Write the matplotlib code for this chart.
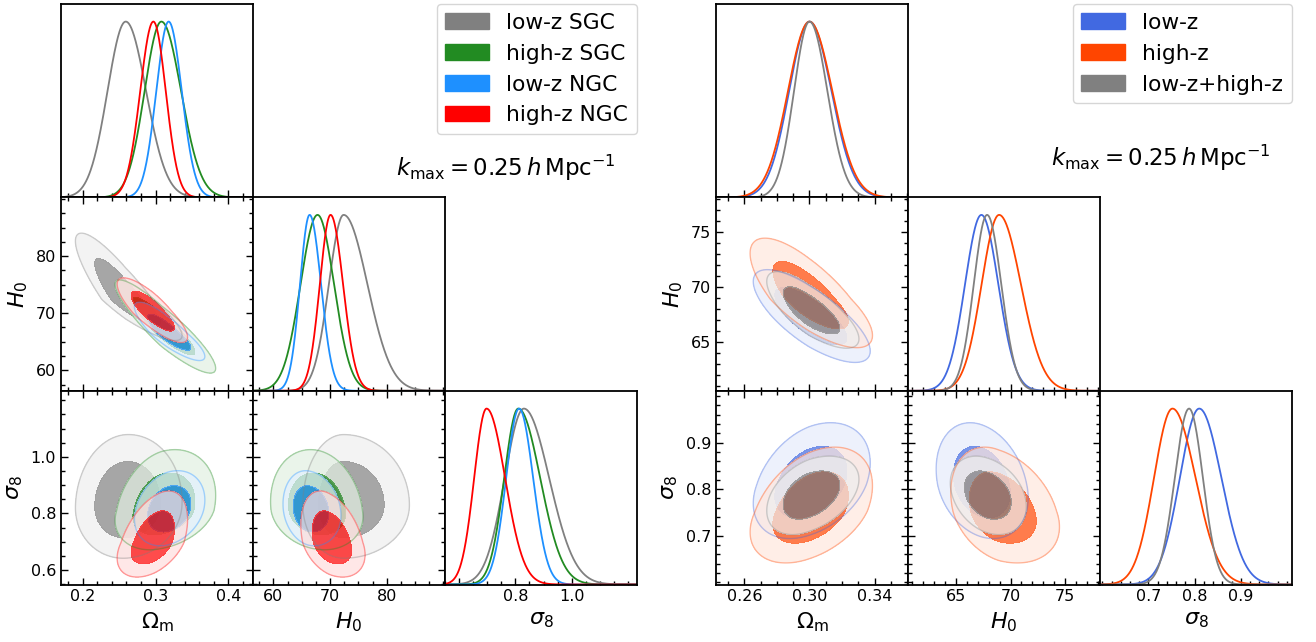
import numpy as np
import matplotlib.pyplot as plt
from matplotlib.patches import Patch
from matplotlib.ticker import MultipleLocator
from matplotlib.colors import to_rgb

W, H = 1316, 642

param_labels = [r'$\Omega_{\rm m}$', r'$H_0$', r'$\sigma_8$']

# left triangle: SGC / NGC split
left_names = ['low-z SGC', 'high-z SGC', 'low-z NGC', 'high-z NGC']
left_colors = ['gray', 'forestgreen', 'dodgerblue', 'red']
# peak position, lower width, upper width for (Om, H0, s8)
left_mode = [[0.259, 72.4, 0.83], [0.308, 67.8, 0.81], [0.318, 66.4, 0.813], [0.297, 70.1, 0.697]]
left_lo = [[0.025, 2.6, 0.068], [0.023, 3.0, 0.05], [0.017, 1.7, 0.046], [0.018, 1.9, 0.044]]
left_hi = [[0.028, 4.2, 0.09], [0.027, 2.9, 0.078], [0.018, 2.0, 0.05], [0.017, 2.2, 0.066]]
# correlations (Om-H0, Om-s8, H0-s8)
left_rho = [[-0.88, 0.05, 0.0], [-0.9, 0.25, -0.15], [-0.85, 0.25, -0.15], [-0.82, 0.45, -0.35]]
left_lims = [(0.17, 0.434), (56.4, 90.3), (0.549, 1.233)]
left_major = [[0.2, 0.3, 0.4], [60, 70, 80], [0.6, 0.8, 1.0]]
left_ticklabels = [['0.2', '0.3', '0.4'], ['60', '70', '80'], ['0.6', '0.8', '1.0']]
left_minor = [0.02, 2.5, 0.05]

# right triangle: combined caps
right_names = ['low-z', 'high-z', 'low-z+high-z']
right_colors = ['royalblue', 'orangered', 'gray']
right_mode = [[0.300, 67.33, 0.810], [0.300, 68.95, 0.752], [0.300, 67.85, 0.788]]
right_lo = [[0.0125, 1.5, 0.042], [0.0132, 1.6, 0.040], [0.0095, 1.22, 0.031]]
right_hi = [[0.0135, 1.55, 0.048], [0.014, 2.0, 0.050], [0.011, 1.3, 0.030]]
right_rho = [[-0.75, 0.35, -0.25], [-0.75, 0.4, -0.3], [-0.75, 0.4, -0.3]]
right_lims = [(0.2425, 0.3606), (60.6, 78.2), (0.595, 1.011)]
right_major = [[0.26, 0.30, 0.34], [65, 70, 75], [0.7, 0.8, 0.9]]
right_ticklabels = [['0.26', '0.30', '0.34'], ['65', '70', '75'], ['0.7', '0.8', '0.9']]
right_minor = [0.01, 1, 0.02]

kmax_text = r'$k_{\rm max} = 0.25\,h\,{\rm Mpc}^{-1}$'

# 2D contours come out a bit broader than the 1D curves (smoothing)
smooth_2d = 1.13

fig = plt.figure(figsize=(13.16, 6.42), dpi=100)
row_y = [4, 197.3, 391]
panel_w, panel_h = 192, 193.5


def split_u(x, m, lo, hi):
    return np.where(x < m, (x - m) / lo, (x - m) / hi)


def conf_levels(p, fracs=(0.95, 0.68)):
    flat = np.sort(p.ravel())[::-1]
    c = np.cumsum(flat)
    c /= c[-1]
    return [flat[np.searchsorted(c, f)] for f in fracs]


def lighter(c, f=0.13):
    rgb = np.array(to_rgb(c))
    return tuple(1 - (1 - rgb) * f)


def style_ticks(ax):
    ax.tick_params(which='both', direction='in', top=True, right=True, labelsize=11.5, width=1)
    ax.tick_params(which='major', length=5)
    ax.tick_params(which='minor', length=3)
    for s in ax.spines.values():
        s.set_linewidth(1.3)


def triangle(col_x, names, colors, modes, lo, hi, rhos, lims, major, ticklabels, minor, hide_first_x=False):
    axes = {}
    for i in range(3):
        for j in range(i + 1):
            x0, y0 = col_x[j], row_y[i]
            ax = fig.add_axes([x0 / W, 1 - (y0 + panel_h) / H, panel_w / W, panel_h / H])
            axes[(i, j)] = ax
            ax.set_xlim(lims[j])
            ax.set_xticks(major[j])
            ax.xaxis.set_minor_locator(MultipleLocator(minor[j]))
            style_ticks(ax)
            if i == 2:
                labs = list(ticklabels[j])
                if hide_first_x and j == 2:
                    labs[0] = ''
                ax.set_xticklabels(labs)
                ax.set_xlabel(param_labels[j], fontsize=16)
            else:
                ax.set_xticklabels([])
            if i == j:
                ax.tick_params(which='both', left=False, right=False, top=False, labelleft=False)
                ax.set_ylim(0, 1.1)
            else:
                ax.set_ylim(lims[i])
                ax.set_yticks(major[i])
                ax.yaxis.set_minor_locator(MultipleLocator(minor[i]))
                if j == 0:
                    ax.set_yticklabels(ticklabels[i])
                    ax.set_ylabel(param_labels[i], fontsize=16)
                else:
                    ax.set_yticklabels([])

    # 1D marginals
    for i in range(3):
        ax = axes[(i, i)]
        x = np.linspace(lims[i][0], lims[i][1], 500)
        for k in range(len(names)):
            u = split_u(x, modes[k][i], lo[k][i], hi[k][i])
            ax.plot(x, np.exp(-0.5 * u ** 2), color=colors[k], lw=1.3)

    # 2D contours
    pairs = {(1, 0): 0, (2, 0): 1, (2, 1): 2}
    for (i, j), r in pairs.items():
        ax = axes[(i, j)]
        for k in range(len(names)):
            lx, hx = lo[k][j] * smooth_2d, hi[k][j] * smooth_2d
            ly, hy = lo[k][i] * smooth_2d, hi[k][i] * smooth_2d
            gx = np.linspace(modes[k][j] - 7 * lx, modes[k][j] + 7 * hx, 350)
            gy = np.linspace(modes[k][i] - 7 * ly, modes[k][i] + 7 * hy, 350)
            X, Y = np.meshgrid(gx, gy)
            u = split_u(X, modes[k][j], lx, hx)
            v = split_u(Y, modes[k][i], ly, hy)
            rho = rhos[k][r]
            P = np.exp(-0.5 * (u * u - 2 * rho * u * v + v * v) / (1 - rho * rho))
            l95, l68 = conf_levels(P)
            ax.contourf(X, Y, P, levels=[l95, l68, P.max() * 1.01],
                        colors=[lighter(colors[k]), colors[k]], alpha=0.7)
            ax.contour(X, Y, P, levels=[l95], colors=[colors[k]], linewidths=1, alpha=0.35)
    return axes


triangle([61, 253, 445], left_names, left_colors, left_mode, left_lo, left_hi, left_rho,
         left_lims, left_major, left_ticklabels, left_minor, hide_first_x=True)
triangle([716, 908, 1100], right_names, right_colors, right_mode, right_lo, right_hi, right_rho,
         right_lims, right_major, right_ticklabels, right_minor)

fig.legend(handles=[Patch(color=c, label=n) for c, n in zip(left_colors, left_names)],
           loc='upper right', bbox_to_anchor=(637 / W, 1 - 4 / H), borderaxespad=0, fontsize=15.7)
fig.legend(handles=[Patch(color=c, label=n) for c, n in zip(right_colors, right_names)],
           loc='upper right', bbox_to_anchor=(1292 / W, 1 - 4 / H), borderaxespad=0, fontsize=15.7)

fig.text(506 / W, 1 - 168 / H, kmax_text, fontsize=16.5, ha='center', va='center')
fig.text(1161 / W, 1 - 158 / H, kmax_text, fontsize=16.5, ha='center', va='center')

fig.savefig('out.png', dpi=100)
